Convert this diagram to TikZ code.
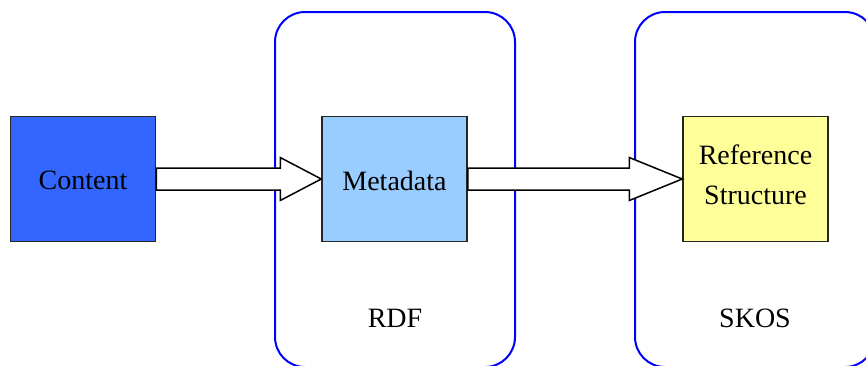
\documentclass[tikz,border=0pt]{standalone}
\usepackage{fontspec}
\setmainfont{Liberation Serif}
\usetikzlibrary{calc}
\definecolor{contentblue}{HTML}{3366FF}
\definecolor{metablue}{HTML}{99CCFF}
\definecolor{refyellow}{HTML}{FFFF99}
\tikzset{
  every node/.style={font=\fontsize{28}{40}\selectfont},
  container/.style={draw=blue, line width=2pt, rounded corners=30pt,
    minimum width=240pt, minimum height=355pt, inner sep=0pt},
  itembox/.style={draw=black!85, line width=1.5pt, minimum width=145pt,
    minimum height=125pt, inner sep=0pt},
  boxtext/.style={inner sep=0pt, align=center},
  blockarrow/.style={draw=black, fill=white, line width=1.5pt, line join=miter},
}
% fat outlined arrow from the east side of #1 to the west side of #2, head length #3
\newcommand\fatarrow[3]{%
  \path[blockarrow] let \p1=(#1.east), \p2=(#2.west) in
    (\x1,\y1+11pt) -- (\x2-#3,\y1+11pt) -- (\x2-#3,\y1+21.5pt) -- (\x2,\y1)
    -- (\x2-#3,\y1-21.5pt) -- (\x2-#3,\y1-11pt) -- (\x1,\y1-11pt) -- cycle;}
\begin{document}
\begin{tikzpicture}[x=1pt,y=-1pt]
\clip (0,0) rectangle (866,365);
\fill[white] (0,0) rectangle (866,365);
% containers
\node[container] (rdf) at (395,189.5) {};
\node[container] (skos) at (755,189.5) {};
\node (rdflabel) at (395,318) {RDF};
\node (skoslabel) at (755,318) {SKOS};
% boxes
\node[itembox, fill=contentblue] (content) at (83,179) {};
\node[itembox, fill=metablue] (meta) at (394.5,179) {};
\node[itembox, fill=refyellow] (ref) at (755.5,179) {};
\node[boxtext, yshift=-1.5pt] (contenttext) at (content.center) {Content};
\node[boxtext, yshift=-2pt] (metatext) at (meta.center) {Metadata};
\node[boxtext, yshift=4.5pt] (reftext) at (ref.center) {Reference\\Structure};
% arrows
\fatarrow{content}{meta}{41pt}
\fatarrow{meta}{ref}{53pt}
\end{tikzpicture}
\end{document}
